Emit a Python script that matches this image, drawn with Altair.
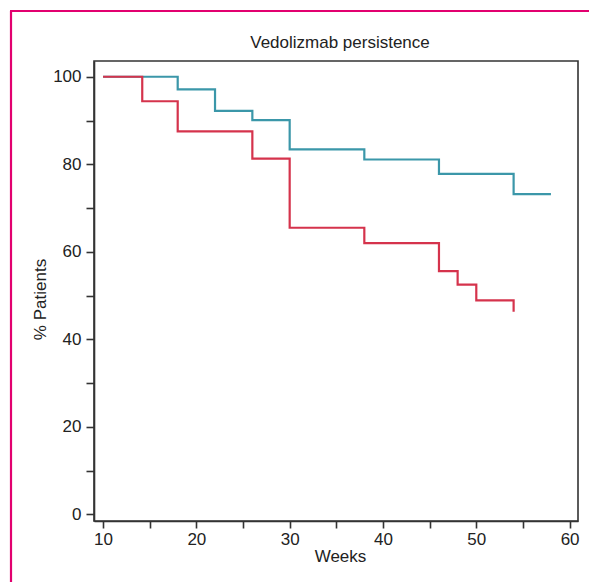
import altair as alt
import pandas as pd

# Data
blue_weeks = [10, 18, 22, 26, 30, 38, 46, 54, 58]
blue_pct = [100, 97.1, 92.2, 90.1, 83.4, 81.1, 77.8, 73.2, 73.2]

red_weeks = [10, 14.2, 18, 26, 30, 38, 46, 48, 50, 54]
red_pct = [100, 94.4, 87.5, 81.3, 65.5, 62.0, 55.6, 52.5, 48.9, 46.3]

x_ticks = [10, 15, 20, 25, 30, 35, 40, 45, 50, 55, 60]
y_ticks = [0, 10, 20, 30, 40, 50, 60, 70, 80, 90, 100]

title_text = ["Vedolizmab persistence"]

BLUE = "#3b97a9"
RED = "#d5334c"
PINK = "#e2006f"
TXT = "#222222"
AX = "#333333"

blue_df = pd.DataFrame({"Weeks": blue_weeks, "Pct": blue_pct})
red_df = pd.DataFrame({"Weeks": red_weeks, "Pct": red_pct})

xscale = alt.Scale(domain=[9.03, 60.9], nice=False, zero=False)
yscale = alt.Scale(domain=[-1.5, 103.6], nice=False, zero=False)

xaxis = alt.Axis(
    values=x_ticks,
    labelExpr="datum.value % 10 == 0 ? datum.label : ''",
    title="Weeks",
    titleX=246, titleY=35, titleAlign="center", titleBaseline="middle",
    grid=False, tickSize=7, labelPadding=3,
)
yaxis = alt.Axis(
    values=y_ticks,
    labelExpr="datum.value % 20 == 0 ? datum.label : ''",
    title="% Patients",
    titleX=-54, titleY=238, titleAlign="center", titleBaseline="middle", titleAngle=270,
    grid=False, tickSize=8, labelPadding=5,
)

blue = alt.Chart(blue_df).mark_line(interpolate="step-after", color=BLUE, strokeWidth=2.2).encode(
    x=alt.X("Weeks:Q", scale=xscale, axis=xaxis),
    y=alt.Y("Pct:Q", scale=yscale, axis=yaxis),
)
red = alt.Chart(red_df).mark_line(interpolate="step-after", color=RED, strokeWidth=2.2).encode(
    x=alt.X("Weeks:Q", scale=xscale, axis=xaxis),
    y=alt.Y("Pct:Q", scale=yscale, axis=yaxis),
)

title = alt.Chart(pd.DataFrame({"t": title_text})).mark_text(
    font="Liberation Sans", fontSize=17, color=TXT, align="center", baseline="alphabetic"
).encode(text="t:N", x=alt.value(246), y=alt.value(-13))

border_top = alt.Chart(pd.DataFrame({"a": [0]})).mark_rule(color=PINK, strokeWidth=2.2, clip=False).encode(
    x=alt.value(-84), x2=alt.value(495), y=alt.value(-50)
)
border_left = alt.Chart(pd.DataFrame({"a": [0]})).mark_rule(color=PINK, strokeWidth=2.2, clip=False).encode(
    x=alt.value(-83), y=alt.value(-50), y2=alt.value(521)
)

chart = alt.layer(blue, red, title, border_top, border_left).properties(
    width=484,
    height=460,
    autosize=alt.AutoSizeParams(type="none"),
    padding={"left": 94, "top": 61, "right": 12, "bottom": 62},
    background="white",
).configure_axis(
    labelFont="Liberation Sans", titleFont="Liberation Sans",
    labelFontSize=17, titleFontSize=17, labelColor=TXT, titleColor=TXT,
    titleFontWeight="normal", domainColor=AX, tickColor=AX,
    domainWidth=1.6, tickWidth=1.6,
).configure_view(
    stroke=AX, strokeWidth=1.6,
)

chart.save("out.html", embed_options={"renderer": "svg", "actions": False})
